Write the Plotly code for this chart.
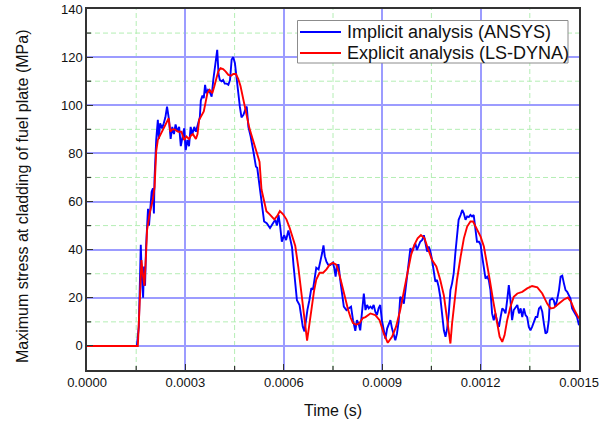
import plotly.graph_objects as go

# Implicit analysis (ANSYS) - blue
implicit_t = [0, 0.000152, 0.000158, 0.000161, 0.000164, 0.000167, 0.000171, 0.000174, 0.000177, 0.00018,
              0.000183, 0.000186, 0.000189, 0.000193, 0.000197, 0.000201, 0.000204, 0.000206, 0.000211, 0.000216,
              0.000219, 0.000223, 0.000229, 0.000234, 0.000239, 0.000244, 0.00025, 0.000255, 0.00026, 0.000265,
              0.00027, 0.000276, 0.000281, 0.000286, 0.00029, 0.000296, 0.000301, 0.000306, 0.000311, 0.000316,
              0.000321, 0.000327, 0.000332, 0.000339, 0.000344, 0.000347, 0.000352, 0.000356, 0.00036, 0.000364,
              0.000369, 0.000374, 0.00038, 0.000385, 0.00039, 0.000393, 0.000397, 0.000401, 0.000405, 0.00041,
              0.000415, 0.00042, 0.000426, 0.000431, 0.000436, 0.000441, 0.000446, 0.000451, 0.000456, 0.000461,
              0.000466, 0.000471, 0.000477, 0.000482, 0.000487, 0.000492, 0.000499, 0.000507, 0.000515, 0.000519,
              0.000526, 0.000533, 0.00054, 0.000548, 0.000558, 0.000567, 0.000574, 0.000579, 0.000584, 0.000589,
              0.000594, 0.000601, 0.000607, 0.000614, 0.000619, 0.000625, 0.00063, 0.000635, 0.00064, 0.000648,
              0.000652, 0.000658, 0.000663, 0.000667, 0.000672, 0.000678, 0.000684, 0.000689, 0.000699, 0.000706,
              0.000712, 0.000717, 0.000721, 0.000725, 0.00073, 0.000735, 0.000742, 0.00075, 0.000754, 0.000758,
              0.000762, 0.000767, 0.000772, 0.000779, 0.000783, 0.000791, 0.000798, 0.000805, 0.000811, 0.000818,
              0.000823, 0.000828, 0.000833, 0.000838, 0.000844, 0.000849, 0.000854, 0.000859, 0.000864, 0.000869,
              0.000874, 0.000879, 0.000884, 0.000889, 0.000894, 0.000899, 0.000905, 0.00091, 0.000915, 0.00092,
              0.000925, 0.00093, 0.000935, 0.00094, 0.000945, 0.00095, 0.000955, 0.00096, 0.000966, 0.000971,
              0.000976, 0.000981, 0.000986, 0.000991, 0.000996, 0.001001, 0.001006, 0.001011, 0.001016, 0.001022,
              0.001027, 0.001032, 0.001037, 0.001042, 0.001047, 0.001052, 0.001057, 0.001062, 0.001067, 0.001072,
              0.001077, 0.001083, 0.001088, 0.001093, 0.001098, 0.001103, 0.001108, 0.001113, 0.001118, 0.001123,
              0.001128, 0.001133, 0.001139, 0.001144, 0.001149, 0.001154, 0.001159, 0.001164, 0.001169, 0.001174,
              0.001179, 0.001184, 0.001189, 0.001195, 0.0012, 0.001205, 0.00121, 0.001215, 0.00122, 0.001225,
              0.00123, 0.001235, 0.00124, 0.001245, 0.001251, 0.001256, 0.001261, 0.001266, 0.001271, 0.001276,
              0.001281, 0.001286, 0.001291, 0.001296, 0.001301, 0.001307, 0.001312, 0.001317, 0.001322, 0.001327,
              0.001332, 0.001337, 0.001342, 0.001347, 0.001352, 0.001357, 0.001363, 0.001368, 0.001373, 0.001378,
              0.001383, 0.001388, 0.001393, 0.001398, 0.001403, 0.001408, 0.001411, 0.001418, 0.001423, 0.001428,
              0.001433, 0.001439, 0.001444, 0.001449, 0.001454, 0.001459, 0.001464, 0.001469, 0.001474, 0.001479,
              0.001484, 0.001489, 0.001494, 0.0015]
implicit_v = [0, 0, 8, 27, 42, 29, 20, 33, 25, 41,
              51, 57, 50, 56, 64, 65.5, 55, 70, 85.6, 94,
              86, 92.5, 90.4, 92.5, 95, 99.4, 94, 86, 91, 88,
              92, 89, 91, 83, 85.6, 90.4, 81.4, 85.6, 83, 91,
              88, 91, 89, 92.5, 95, 102, 104, 103, 108.5, 105,
              106.4, 105.7, 103.6, 110.5, 116, 120, 123, 113, 110.5, 110,
              110.5, 109, 109, 108.5, 110.5, 119, 120, 117.5, 110.5, 103.6,
              99.4, 95, 96, 98, 99.5, 91, 87, 81, 74.5, 74,
              67, 60.7, 51.7, 51, 49, 51, 52.4, 50, 54.4, 49.6,
              43.3, 46, 44, 48, 44.7, 41, 33, 26, 19, 17,
              13.5, 8, 6, 10.7, 15, 19, 24, 23.4, 32.5, 31.8,
              35, 38.7, 41.8, 37.3, 35, 33.8, 33.6, 34.6, 32.2, 28.8,
              33.6, 33.6, 27.4, 20.4, 16.3, 14.9, 15.6, 16.3, 10.7, 6.3,
              10.7, 9.3, 6.5, 13.5, 21.8, 14.9, 17, 15.6, 16.3, 15.6,
              17, 14.2, 12.8, 15.6, 17, 10.7, 5.8, 3, 7.2, 9.3,
              10.7, 7.2, 4.4, 2.4, 5.1, 10, 20.4, 19.7, 17.6, 23.2,
              28.8, 34.3, 40.6, 39.2, 41.3, 42.6, 39.9, 42, 43.3, 44,
              46, 42.6, 39.2, 41.3, 39.2, 35.7, 30.1, 26.7, 27.4, 24.6,
              20.4, 13.5, 6.5, 3.8, 7.2, 13.5, 23.2, 26, 30.1, 38.5,
              46.8, 52.4, 54.4, 56.5, 55, 52.4, 53.8, 53.5, 54.4, 53.8,
              54.4, 48.2, 43.3, 43.3, 42, 37, 31.5, 28, 28.8, 27.4,
              23.2, 13.5, 10.7, 13.5, 10, 7.9, 12, 15.6, 14.9, 13.5,
              19, 25.3, 19, 10.7, 14.9, 16.3, 17, 13.5, 15.6, 12,
              15.6, 12.8, 12, 7.9, 6.5, 7.9, 10.7, 12, 12, 15.6,
              16.3, 14.2, 9.3, 5.1, 5.8, 10.7, 19, 19.7, 19, 16.3,
              19, 23.2, 28.8, 29.2, 26, 23.2, 22.5, 21, 19.7, 15.6,
              14.2, 13.5, 12, 8.6]

# Explicit analysis (LS-DYNA) - red
explicit_t = [0, 0.000155, 0.00016, 0.000166, 0.00017, 0.000175, 0.00018, 0.000183, 0.000191, 0.000201,
              0.000206, 0.000211, 0.000216, 0.000223, 0.000232, 0.000242, 0.000249, 0.000254, 0.00026, 0.000267,
              0.000278, 0.000288, 0.000296, 0.000303, 0.000311, 0.000318, 0.000323, 0.000332, 0.000337, 0.000342,
              0.000349, 0.000356, 0.000362, 0.000367, 0.000374, 0.000382, 0.000388, 0.000395, 0.0004, 0.000407,
              0.000415, 0.000423, 0.000431, 0.000439, 0.000446, 0.000454, 0.000461, 0.000468, 0.000477, 0.000485,
              0.000495, 0.000505, 0.000515, 0.000526, 0.000532, 0.000547, 0.000557, 0.000571, 0.00058, 0.000588,
              0.000598, 0.000608, 0.000618, 0.000628, 0.000635, 0.000644, 0.000652, 0.000659, 0.000666, 0.000671,
              0.000677, 0.000684, 0.000692, 0.000699, 0.000709, 0.00072, 0.00073, 0.00074, 0.00075, 0.00076,
              0.000768, 0.000777, 0.000785, 0.000796, 0.000804, 0.000811, 0.000821, 0.000831, 0.000841, 0.000849,
              0.000864, 0.000879, 0.000892, 0.000905, 0.000917, 0.00093, 0.000942, 0.000955, 0.000968, 0.000978,
              0.000988, 0.000998, 0.001008, 0.001018, 0.001029, 0.001039, 0.001052, 0.001065, 0.001077, 0.001088,
              0.001098, 0.001103, 0.001108, 0.001113, 0.00112, 0.001128, 0.001139, 0.001149, 0.001159, 0.001169,
              0.001177, 0.001187, 0.0012, 0.00121, 0.001218, 0.001228, 0.001238, 0.001248, 0.001258, 0.001266,
              0.001273, 0.001281, 0.001291, 0.001301, 0.001312, 0.001327, 0.001342, 0.001357, 0.001373, 0.001388,
              0.001403, 0.001413, 0.001423, 0.001439, 0.001454, 0.001466, 0.001476, 0.001486, 0.0015]
explicit_v = [0, 0, 16, 35.7, 30, 25, 38, 48, 55, 61,
              66, 81, 85.6, 87.6, 89.7, 92.5, 94.6, 89, 90, 90,
              89, 89, 85.6, 87, 86, 87.6, 88, 86, 88, 94,
              96, 97.4, 101.5, 105, 106.4, 105, 107.8, 111, 114, 115.4,
              115, 114, 112.6, 112.3, 113, 113, 111, 108, 102, 97,
              90.5, 86, 81.5, 76.5, 65, 56, 54.7, 52.6, 54, 56,
              54.7, 52.6, 49, 45, 41.5, 33, 23.4, 15, 6.7, 2.2,
              8, 15, 22.7, 27.6, 30.4, 30.4, 31.8, 33.8, 34.5, 33.8,
              30.4, 25.5, 20.6, 15, 11.6, 9.5, 8.8, 9.5, 11.6, 12,
              13.5, 12.8, 10.7, 5.1, 1.3, 3.8, 7.9, 14.9, 24, 31.5,
              37.8, 42, 44.7, 46.1, 44.7, 40.6, 35.7, 33, 27.4, 21,
              12, 6.5, 1, 9.3, 19, 27.4, 37, 44.7, 49.6, 51.7,
              51.7, 49, 45.4, 41.3, 35.7, 27.4, 19, 10.7, 3.8, 1.7,
              4.4, 10.7, 16.3, 20.4, 21.8, 22.5, 23.9, 24.9, 24.3, 21.8,
              17.6, 15.6, 15.8, 17.6, 19.3, 20.1, 18.3, 14.9, 11.4]

series_names = ["Implicit analysis (ANSYS)", "Explicit analysis (LS-DYNA)"]
series_colors = ["#0000ff", "#ff0000"]

x_ticks = [0, 0.0003, 0.0006, 0.0009, 0.0012, 0.0015]
x_tick_labels = ["0.0000", "0.0003", "0.0006", "0.0009", "0.0012", "0.0015"]
x_minor_ticks = [0.00015, 0.00045, 0.00075, 0.00105, 0.00135]
y_ticks = [0, 20, 40, 60, 80, 100, 120, 140]
y_minor_ticks = [10, 30, 50, 70, 90, 110, 130]
x_title = "Time (s)"
y_title = "Maximum stress at cladding of fuel plate (MPa)"

FONT = "Arial, 'Liberation Sans', sans-serif"
W, H = 611, 426
ML, MR, MT, MB = 87, 32, 9, 56
pw = W - ML - MR
ph = H - MT - MB
MINOR_GRID = "#b4eeb4"
MAJOR_GRID = "#9c9cff"
AXIS_COLOR = "#333333"


def px_x(p):
    return (p - ML) / pw


def px_y(p):
    return 1 - (p - MT) / ph


fig = go.Figure()
for t, v, name, color in [(implicit_t, implicit_v, series_names[0], series_colors[0]),
                          (explicit_t, explicit_v, series_names[1], series_colors[1])]:
    fig.add_trace(go.Scatter(x=t, y=v, mode="lines", name=name, showlegend=False,
                             line=dict(color=color, width=1.9)))

axis_common = dict(
    automargin=False,
    showline=True, linecolor=AXIS_COLOR, linewidth=1.5, mirror=True,
    showgrid=True, gridcolor=MAJOR_GRID, gridwidth=2,
    ticks="inside", ticklen=6, tickcolor=AXIS_COLOR, tickwidth=1.2,
    zeroline=False,
    tickfont=dict(family=FONT, size=13, color="#111111"),
)

fig.update_xaxes(range=[0, 0.0015], tickvals=x_ticks, ticktext=x_tick_labels, **axis_common)
fig.update_yaxes(range=[-10, 140], tickvals=y_ticks, **axis_common)

# minor dashed gridlines and short inside minor ticks (only between major lines)
for xv in x_minor_ticks:
    fig.add_shape(type="line", xref="x", yref="y domain", x0=xv, x1=xv, y0=0, y1=1,
                  line=dict(color=MINOR_GRID, width=1, dash="5px,3px"), layer="below")
    fig.add_shape(type="line", xref="x", yref="paper", x0=xv, x1=xv, y0=0, y1=4 / ph,
                  line=dict(color=AXIS_COLOR, width=1.2), layer="above")
for yv in y_minor_ticks:
    fig.add_shape(type="line", xref="x domain", yref="y", x0=0, x1=1, y0=yv, y1=yv,
                  line=dict(color=MINOR_GRID, width=1, dash="5px,3px"), layer="below")
    fig.add_shape(type="line", xref="paper", yref="y", x0=0, x1=4 / pw, y0=yv, y1=yv,
                  line=dict(color=AXIS_COLOR, width=1.2), layer="above")

# axis titles
fig.add_annotation(text=x_title, xref="paper", yref="paper", x=0.5, y=px_y(410),
                   showarrow=False, xanchor="center", yanchor="middle",
                   font=dict(family=FONT, size=16, color="#111111"))
fig.add_annotation(text=y_title, xref="paper", yref="paper", x=px_x(22), y=px_y(197),
                   textangle=-90, showarrow=False, xanchor="center", yanchor="middle",
                   font=dict(family=FONT, size=16, color="#111111"))

# legend box (drawn to match the original's compact legend)
fig.add_shape(type="rect", xref="paper", yref="paper",
              x0=px_x(297.5), x1=px_x(568), y0=px_y(63), y1=px_y(20.5),
              fillcolor="white", line=dict(color="#8c8c8c", width=1), layer="above")
for i, (name, color) in enumerate(zip(series_names, series_colors)):
    row_y = px_y(32 + i * 21)
    fig.add_shape(type="line", xref="paper", yref="paper",
                  x0=px_x(300), x1=px_x(341), y0=row_y, y1=row_y,
                  line=dict(color=color, width=1.9), layer="above")
    fig.add_annotation(text=name, xref="paper", yref="paper", x=px_x(345), y=row_y,
                       showarrow=False, xanchor="left", yanchor="middle",
                       font=dict(family=FONT, size=18, color="#111111"))

fig.update_layout(
    width=W, height=H,
    margin=dict(l=ML, r=MR, t=MT, b=MB, autoexpand=False),
    paper_bgcolor="white", plot_bgcolor="white",
    font=dict(family=FONT, color="#111111"),
    showlegend=False,
)

fig.write_html("out.html", config={"displayModeBar": False},
               post_script="document.body.style.margin='0';document.body.style.padding='0';"
                           "document.body.style.overflow='hidden';")
